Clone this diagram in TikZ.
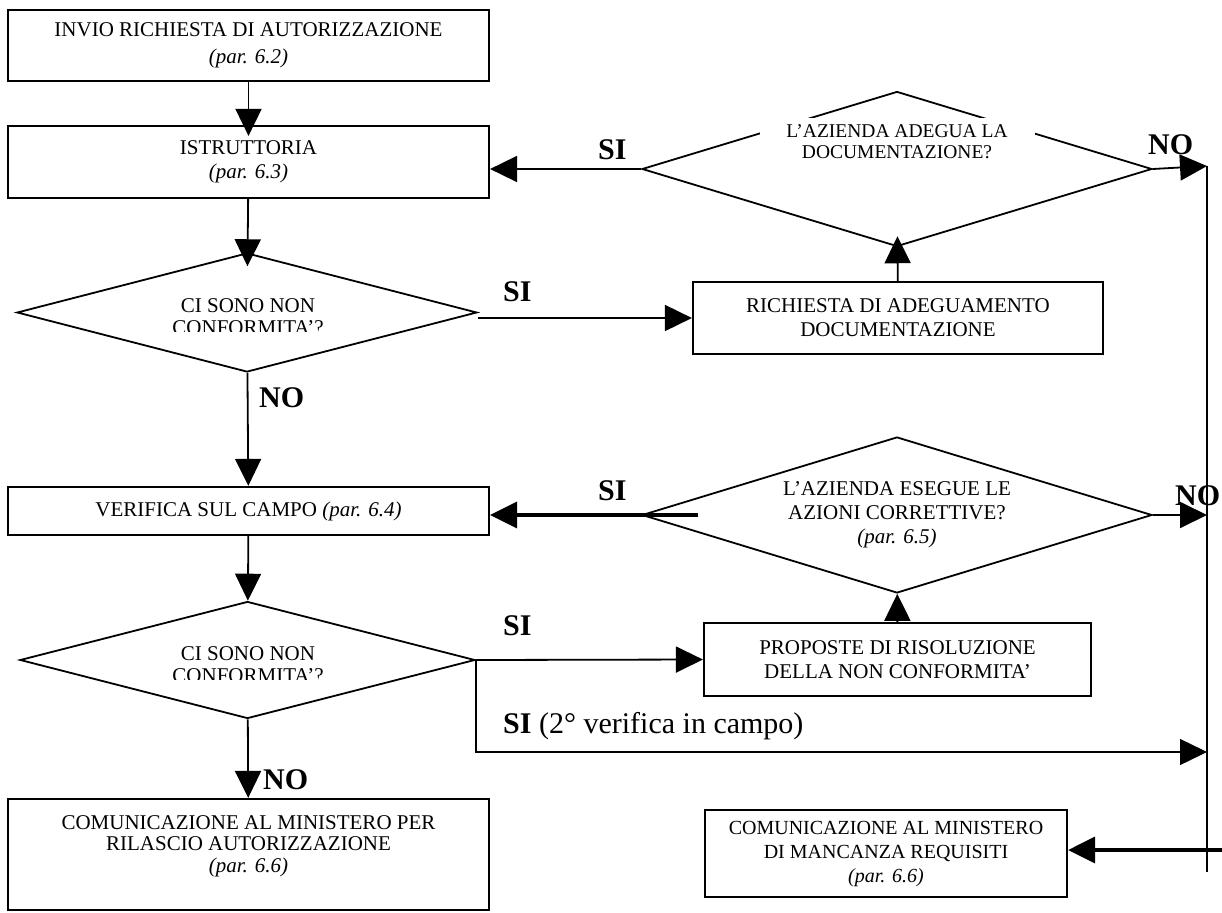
\documentclass[tikz,border=0pt]{standalone}
\usepackage{fontspec}
\setmainfont{Liberation Serif}
\usetikzlibrary{shapes.geometric,arrows.meta}

\begin{document}
\begin{tikzpicture}[
    x=1pt, y=-1pt,
    every node/.style={font=\fontsize{21}{24}\selectfont},
    process/.style={rectangle, draw=black, line width=2.2pt, align=center, inner sep=0pt},
    decision/.style={diamond, draw=black, line width=1.8pt, inner sep=0pt, align=center},
    dectext/.style={inner sep=0pt, align=center, font=\fontsize{21}{22}\selectfont},
    answer/.style={anchor=base west, inner sep=0pt, font=\fontsize{30}{34}\selectfont\bfseries},
    arrow/.style={-{Triangle[length=27pt,width=26pt]}, line width=1.8pt},
    thickarrow/.style={-{Triangle[length=27pt,width=26pt]}, line width=3.5pt}
]
\useasboundingbox (0,0) rectangle (1222,912);

\node[process, minimum width=481pt, minimum height=71pt] (invio) at (248.5,45.5) {INVIO RICHIESTA DI AUTORIZZAZIONE\\[3pt]\textit{(par. 6.2)}};
\node[process, minimum width=481pt, minimum height=72pt] (istr) at (248.5,162) {ISTRUTTORIA\\\textit{(par. 6.3)}};
\node[decision, minimum width=460pt, minimum height=119pt] (nc1) at (247,312.5) {};
\begin{scope}
  \clip (0,280) rectangle (500,331);
  \node[dectext] (nc1txt) at (248,317) {CI SONO NON\\CONFORMITA'?};
\end{scope}
\node[process, minimum width=481pt, minimum height=48pt] (verifica) at (248.5,511) {VERIFICA SUL CAMPO \textit{(par. 6.4)}};
\node[decision, minimum width=455pt, minimum height=117pt] (nc2) at (247.5,660) {};
\begin{scope}
  \clip (0,630) rectangle (500,679);
  \node[dectext] (nc2txt) at (248,665) {CI SONO NON\\CONFORMITA'?};
\end{scope}
\node[process, minimum width=481pt, minimum height=111pt, font=\fontsize{21}{21.5}\selectfont] (comok) at (248.5,854.5) {COMUNICAZIONE AL MINISTERO PER\\RILASCIO AUTORIZZAZIONE\\\textit{(par. 6.6)}\\\mbox{}};

\node[decision, minimum width=510pt, minimum height=155pt] (adegua) at (897,169) {};
\node[dectext, fill=white, minimum width=275pt, minimum height=48pt, font=\fontsize{19.5}{21}\selectfont] (adeguatxt) at (897,142) {L'AZIENDA ADEGUA LA\\DOCUMENTAZIONE?};
\node[process, minimum width=410pt, minimum height=72pt] (richiesta) at (898,318) {RICHIESTA DI ADEGUAMENTO\\DOCUMENTAZIONE};
\node[decision, minimum width=510pt, minimum height=156pt, aspect=3.3] (esegue) at (897,515) {L'AZIENDA ESEGUE LE\\AZIONI CORRETTIVE?\\\textit{(par. 6.5)}};
\node[process, minimum width=387pt, minimum height=73pt] (proposte) at (897.5,659.5) {PROPOSTE DI RISOLUZIONE\\DELLA NON CONFORMITA'};
\node[process, minimum width=362pt, minimum height=87pt, font=\fontsize{20}{24}\selectfont] (comno) at (886,853.5) {COMUNICAZIONE AL MINISTERO\\DI MANCANZA REQUISITI\\\textit{(par. 6.6)}};

\coordinate (notop) at (1207,166);
\coordinate (nobot) at (1207,872);
\coordinate (verif2) at (1207,752);
\coordinate (edge) at (1222,850);

\node[answer] (si1) at (598,160) {SI};
\node[answer] (no1) at (1148,155) {NO};
\node[answer] (si2) at (503,301) {SI};
\node[answer] (no2) at (259,407) {NO};
\node[answer] (si3) at (598,500) {SI};
\node[answer] (no3) at (1175,505) {NO};
\node[answer] (si4) at (503,635) {SI};
\node[answer, font=\fontsize{30}{34}\selectfont] (si5) at (503,733) {\textbf{SI} (2° verifica in campo)};
\node[answer] (no4) at (263,789) {NO};

\draw[arrow, shorten >=-11pt] (invio) -- (istr);
\draw[arrow, shorten >=-14pt] (istr) -- (nc1);
\draw[arrow] (nc1) -- (verifica);
\draw[arrow] (verifica) -- (nc2);
\draw[arrow] (nc2) -- (comok);
\draw[arrow] (nc1.east |- richiesta.west) -- (richiesta.west);
\draw[arrow] (nc2.east) -- (proposte.west);
\draw[arrow, line width=1.4pt] (nc2.east) |- (verif2);
\draw[arrow, shorten >=-11pt] (richiesta) -- (adegua);
\draw[arrow] (proposte) -- (esegue);
\draw[arrow] (adegua.west) -- (adegua.west -| istr.east);
\draw[thickarrow] ([xshift=57pt]esegue.west) -- (esegue.west -| verifica.east);
\draw[arrow] (adegua.east) -- (notop);
\draw[arrow] (esegue.east) -- (esegue.east -| notop);
\draw[line width=1.8pt] (notop) -- (nobot);
\draw[thickarrow] (edge) -- (edge -| comno.east);

\end{tikzpicture}
\end{document}
